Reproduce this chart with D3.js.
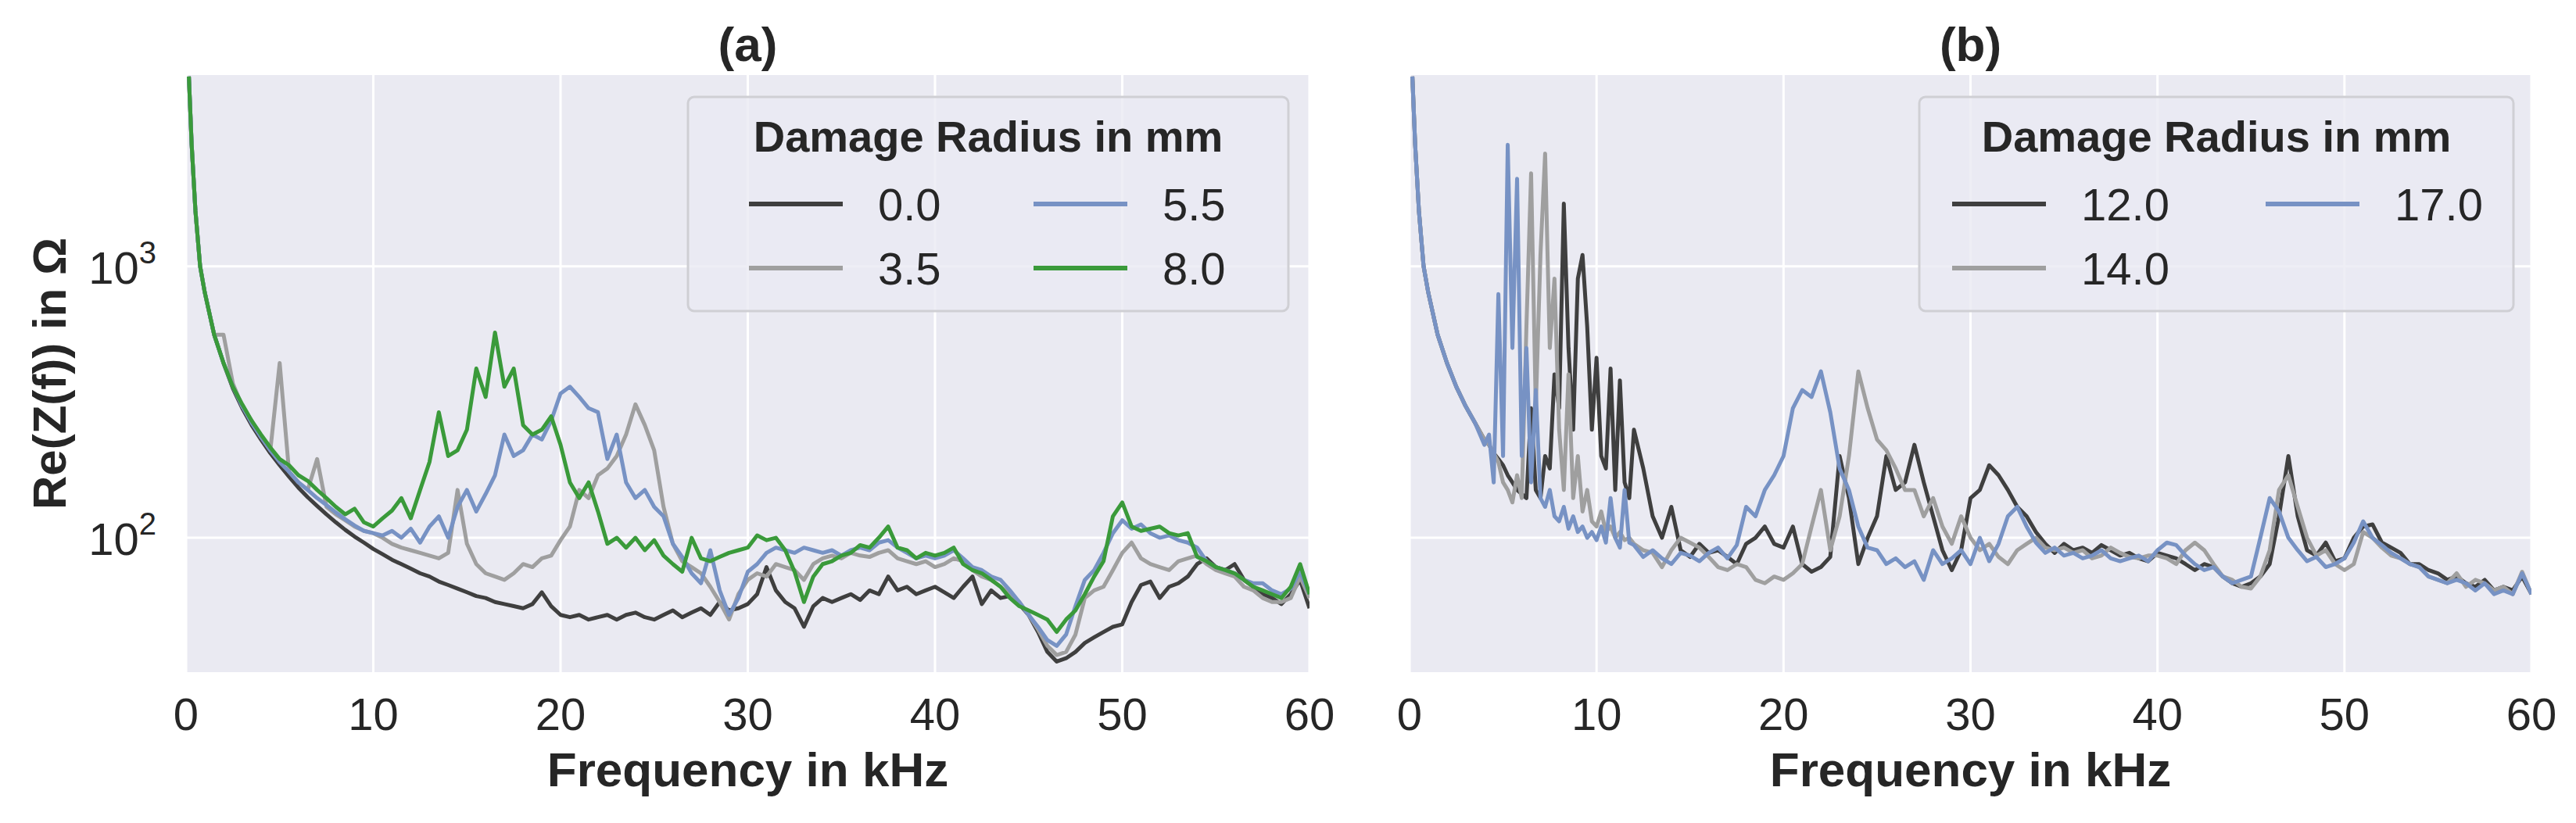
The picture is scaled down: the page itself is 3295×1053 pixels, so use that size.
<!DOCTYPE html>
<html>
<head>
<script src="https://cdn.jsdelivr.net/npm/d3@7"></script>
<style>
  body { margin: 0; background: #fff; }
  text { font-family: "Liberation Sans", Arial, sans-serif; fill: #262626; }
</style>
</head>
<body>
<div id="chart"></div>
<script>
// frequencies (kHz)
var freqA = [0.15, 0.3, 0.5, 0.75].concat(d3.range(1, 60.01, 0.5));
var freqB = [0.15, 0.3, 0.5, 0.75, 1, 1.5, 2, 2.5, 3, 3.5]
  .concat(d3.range(4, 12.01, 0.25)).concat(d3.range(12.5, 60.01, 0.5));

// panel (a) Re(Z) in Ohm
var a_r00 = [5000,2800,1600,1000,
  800,560,440,355,300,260,230,205,185,168,153,141,131,122,114,107,101,96,
  91,87,83,80,77,74,72,69,67,65,63,61,60,58,57,56,55,57,63,56,
  52,51,52,50,51,52,50,52,53,51,50,52,54,51,53,55,52,58,54,55,
  57,62,78,64,58,55,47,56,60,58,60,62,59,64,62,72,64,66,62,64,
  66,63,60,66,72,57,64,60,61,57,52,45,38,35,36,38,41,43,45,47,
  48,58,67,69,60,66,68,72,80,84,78,76,80,70,66,62,60,57,62,70,55];
var a_r35 = [5000,2800,1600,1000,
  800,560,560,370,305,270,235,210,440,175,160,150,195,130,122,116,110,106,
  104,100,95,92,90,88,86,84,88,150,95,80,74,72,70,74,80,78,84,86,
  98,110,150,140,170,180,200,240,310,260,210,130,95,82,78,74,66,58,50,62,
  70,74,72,80,78,76,70,80,84,86,84,88,86,85,88,90,84,82,80,82,
  78,80,84,82,76,72,70,66,62,58,52,46,40,37,38,44,60,64,66,76,
  88,96,84,80,78,76,82,84,86,80,76,74,72,66,64,60,58,58,60,72,60];
var a_r55 = [5000,2800,1600,1000,
  800,560,440,360,305,265,235,210,190,175,160,150,140,132,124,117,111,106,
  104,102,106,100,108,96,110,120,100,130,150,125,145,170,240,200,210,240,230,270,
  340,360,330,300,290,195,240,160,140,150,130,120,95,85,74,68,90,64,52,60,
  75,80,88,92,90,88,92,90,88,90,86,90,92,90,96,98,92,88,84,86,
  84,86,90,84,78,76,72,70,64,58,52,47,42,40,44,56,70,76,88,104,
  116,108,112,104,100,102,98,96,92,82,78,76,74,70,68,68,64,62,65,75,62];
var a_r80 = [5000,2800,1600,1000,
  800,560,440,360,310,270,240,215,195,185,170,162,150,140,130,122,128,114,
  110,118,126,140,118,150,190,290,200,210,250,420,330,570,360,420,260,240,250,280,
  220,160,140,160,125,95,100,92,100,90,98,86,80,75,100,84,82,85,88,90,
  92,102,98,100,90,75,58,72,80,82,86,88,94,92,100,110,92,90,84,88,
  86,88,92,80,76,74,70,66,60,56,54,52,50,45,50,54,62,72,82,120,
  135,110,106,108,110,104,102,104,85,82,78,76,74,70,66,64,62,60,66,80,62];

// panel (b)
var b_r120 = [5000,2800,1600,1000,800,560,440,360,305,265,
  230,220,205,195,185,170,160,150,145,140,300,150,140,200,180,400,300,1700,500,250,900,1100,600,250,460,200,180,420,150,380,160,140,250,
  180,120,100,130,90,85,95,88,90,85,80,95,100,110,95,
  92,110,80,75,78,85,200,140,80,100,120,200,150,160,220,160,120,90,76,90,
  140,150,185,170,150,130,120,105,95,88,95,90,92,88,94,90,86,88,84,82,
  88,86,84,80,76,80,78,72,68,66,68,72,80,120,200,120,90,86,96,82,
  84,100,110,112,96,92,88,80,80,76,74,70,72,68,66,70,64,66,64,72,62];
var b_r140 = [5000,2800,1600,1000,800,560,440,360,305,265,
  230,220,205,190,160,150,135,170,140,600,2200,300,1100,2600,500,900,250,150,400,140,200,125,150,115,110,125,105,110,100,105,98,100,95,
  90,88,78,90,100,96,92,85,78,76,80,78,70,68,72,
  70,74,80,110,150,90,120,200,410,300,230,210,180,150,150,120,140,110,95,120,
  100,90,95,85,80,90,95,100,92,90,92,88,90,84,86,92,88,85,84,86,
  86,84,80,90,96,90,80,72,70,66,65,72,90,150,170,130,100,86,90,80,
  76,80,105,100,92,86,84,80,78,72,70,68,74,66,70,68,64,66,62,75,62];
var b_r170 = [5000,2800,1600,1000,800,560,440,360,305,265,
  220,240,160,790,200,2800,500,2100,200,500,160,350,140,130,150,120,115,130,108,120,105,110,100,105,98,110,96,140,100,92,150,96,94,
  85,90,84,80,88,86,82,88,92,84,94,130,120,150,170,
  200,300,350,330,410,290,180,150,110,92,90,80,84,78,82,70,90,80,84,90,
  80,100,82,95,120,130,110,96,88,92,86,88,84,86,90,84,82,84,86,82,
  90,96,94,86,80,76,78,72,68,70,72,100,140,125,100,90,82,85,78,80,
  84,96,115,100,94,88,84,80,78,72,70,68,70,68,64,68,62,64,62,74,62];

var xTicks = [0, 10, 20, 30, 40, 50, 60];
var yTicks = [100, 1000];
var legendTitle = "Damage Radius in mm";
var panels = [
  { title: "(a)", x0: 238, x1: 1675, freq: freqA, lx: 880, lw: 768,
    series: [
      { name: "0.0", vals: a_r00, color: "#3f3f3f" },
      { name: "3.5", vals: a_r35, color: "#9f9f9f" },
      { name: "5.5", vals: a_r55, color: "#7792c4" },
      { name: "8.0", vals: a_r80, color: "#3a9a3a" }] },
  { title: "(b)", x0: 1803, x1: 3238, freq: freqB, lx: 2455, lw: 760,
    series: [
      { name: "12.0", vals: b_r120, color: "#3f3f3f" },
      { name: "14.0", vals: b_r140, color: "#9f9f9f" },
      { name: "17.0", vals: b_r170, color: "#7792c4" }] }
];

var W = 3295, H = 1053, top_ = 96, bot = 860;
var svg = d3.select("#chart").append("svg").attr("width", W).attr("height", H);
var y = d3.scaleLog().domain([32, 5060]).range([bot, top_]);

panels.forEach(function(p, pi) {
  var x = d3.scaleLinear().domain([0, 60]).range([p.x0, p.x1]);
  var g = svg.append("g");
  g.append("rect").attr("x", p.x0).attr("y", top_).attr("width", p.x1 - p.x0)
    .attr("height", bot - top_).attr("fill", "#eaeaf2");
  var clipId = "clip" + pi;
  g.append("clipPath").attr("id", clipId).append("rect")
    .attr("x", p.x0).attr("y", top_).attr("width", p.x1 - p.x0).attr("height", bot - top_);

  g.selectAll(".vg").data(xTicks).enter().append("line")
    .attr("x1", d => x(d)).attr("x2", d => x(d)).attr("y1", top_).attr("y2", bot)
    .attr("stroke", "#fff").attr("stroke-width", 3);
  g.selectAll(".hg").data(yTicks).enter().append("line")
    .attr("x1", p.x0).attr("x2", p.x1).attr("y1", d => y(d)).attr("y2", d => y(d))
    .attr("stroke", "#fff").attr("stroke-width", 3);

  g.selectAll(".xt").data(xTicks).enter().append("text")
    .attr("x", d => x(d)).attr("y", 934).attr("text-anchor", "middle")
    .attr("font-size", 58).text(d => d);
  g.append("text").attr("x", (p.x0 + p.x1) / 2).attr("y", 1006).attr("text-anchor", "middle")
    .attr("font-size", 62).attr("font-weight", "bold").text("Frequency in kHz");
  g.append("text").attr("x", (p.x0 + p.x1) / 2).attr("y", 78).attr("text-anchor", "middle")
    .attr("font-size", 62).attr("font-weight", "bold").text(p.title);

  if (pi === 0) {
    var yt = g.selectAll(".yt").data(yTicks).enter().append("text")
      .attr("x", 200).attr("y", d => y(d) + 22).attr("text-anchor", "end").attr("font-size", 58);
    yt.append("tspan").text("10");
    yt.append("tspan").attr("dy", -26).attr("font-size", 40).text(d => Math.round(Math.log10(d)));
    g.append("text").attr("transform", "translate(84," + (top_ + bot) / 2 + ") rotate(-90)")
      .attr("text-anchor", "middle").attr("font-size", 60).attr("font-weight", "bold")
      .attr("font-family", "DejaVu Sans").text("Re(Z(f)) in Ω");
  }

  var line = d3.line().x(d => x(d[0])).y(d => y(d[1]));
  p.series.forEach(function(s) {
    var pts = d3.zip(p.freq, s.vals);
    g.append("path").datum(pts).attr("d", line).attr("fill", "none")
      .attr("stroke", s.color).attr("stroke-width", 5).attr("stroke-linejoin", "round")
      .attr("clip-path", "url(#" + clipId + ")");
  });

  // legend
  var lg = g.append("g");
  lg.append("rect").attr("x", p.lx).attr("y", 124).attr("width", p.lw).attr("height", 274)
    .attr("rx", 8).attr("fill", "#eaeaf2").attr("fill-opacity", 0.8)
    .attr("stroke", "#cfcfd4").attr("stroke-width", 3);
  lg.append("text").attr("x", p.lx + p.lw / 2).attr("y", 194).attr("text-anchor", "middle")
    .attr("font-size", 56).attr("font-weight", "bold").attr("font-family", "Open Sans")
    .text(legendTitle);
  var colX = pi === 0 ? [p.lx + 78, p.lx + 442] : [p.lx + 42, p.lx + 443];
  p.series.forEach(function(s, i) {
    var cx = colX[Math.floor(i / 2)], cy = i % 2 === 0 ? 261 : 343;
    lg.append("line").attr("x1", cx).attr("x2", cx + 120).attr("y1", cy).attr("y2", cy)
      .attr("stroke", s.color).attr("stroke-width", 6);
    lg.append("text").attr("x", cx + 165).attr("y", cy + 21).attr("font-size", 58).text(s.name);
  });
});
</script>
</body>
</html>
